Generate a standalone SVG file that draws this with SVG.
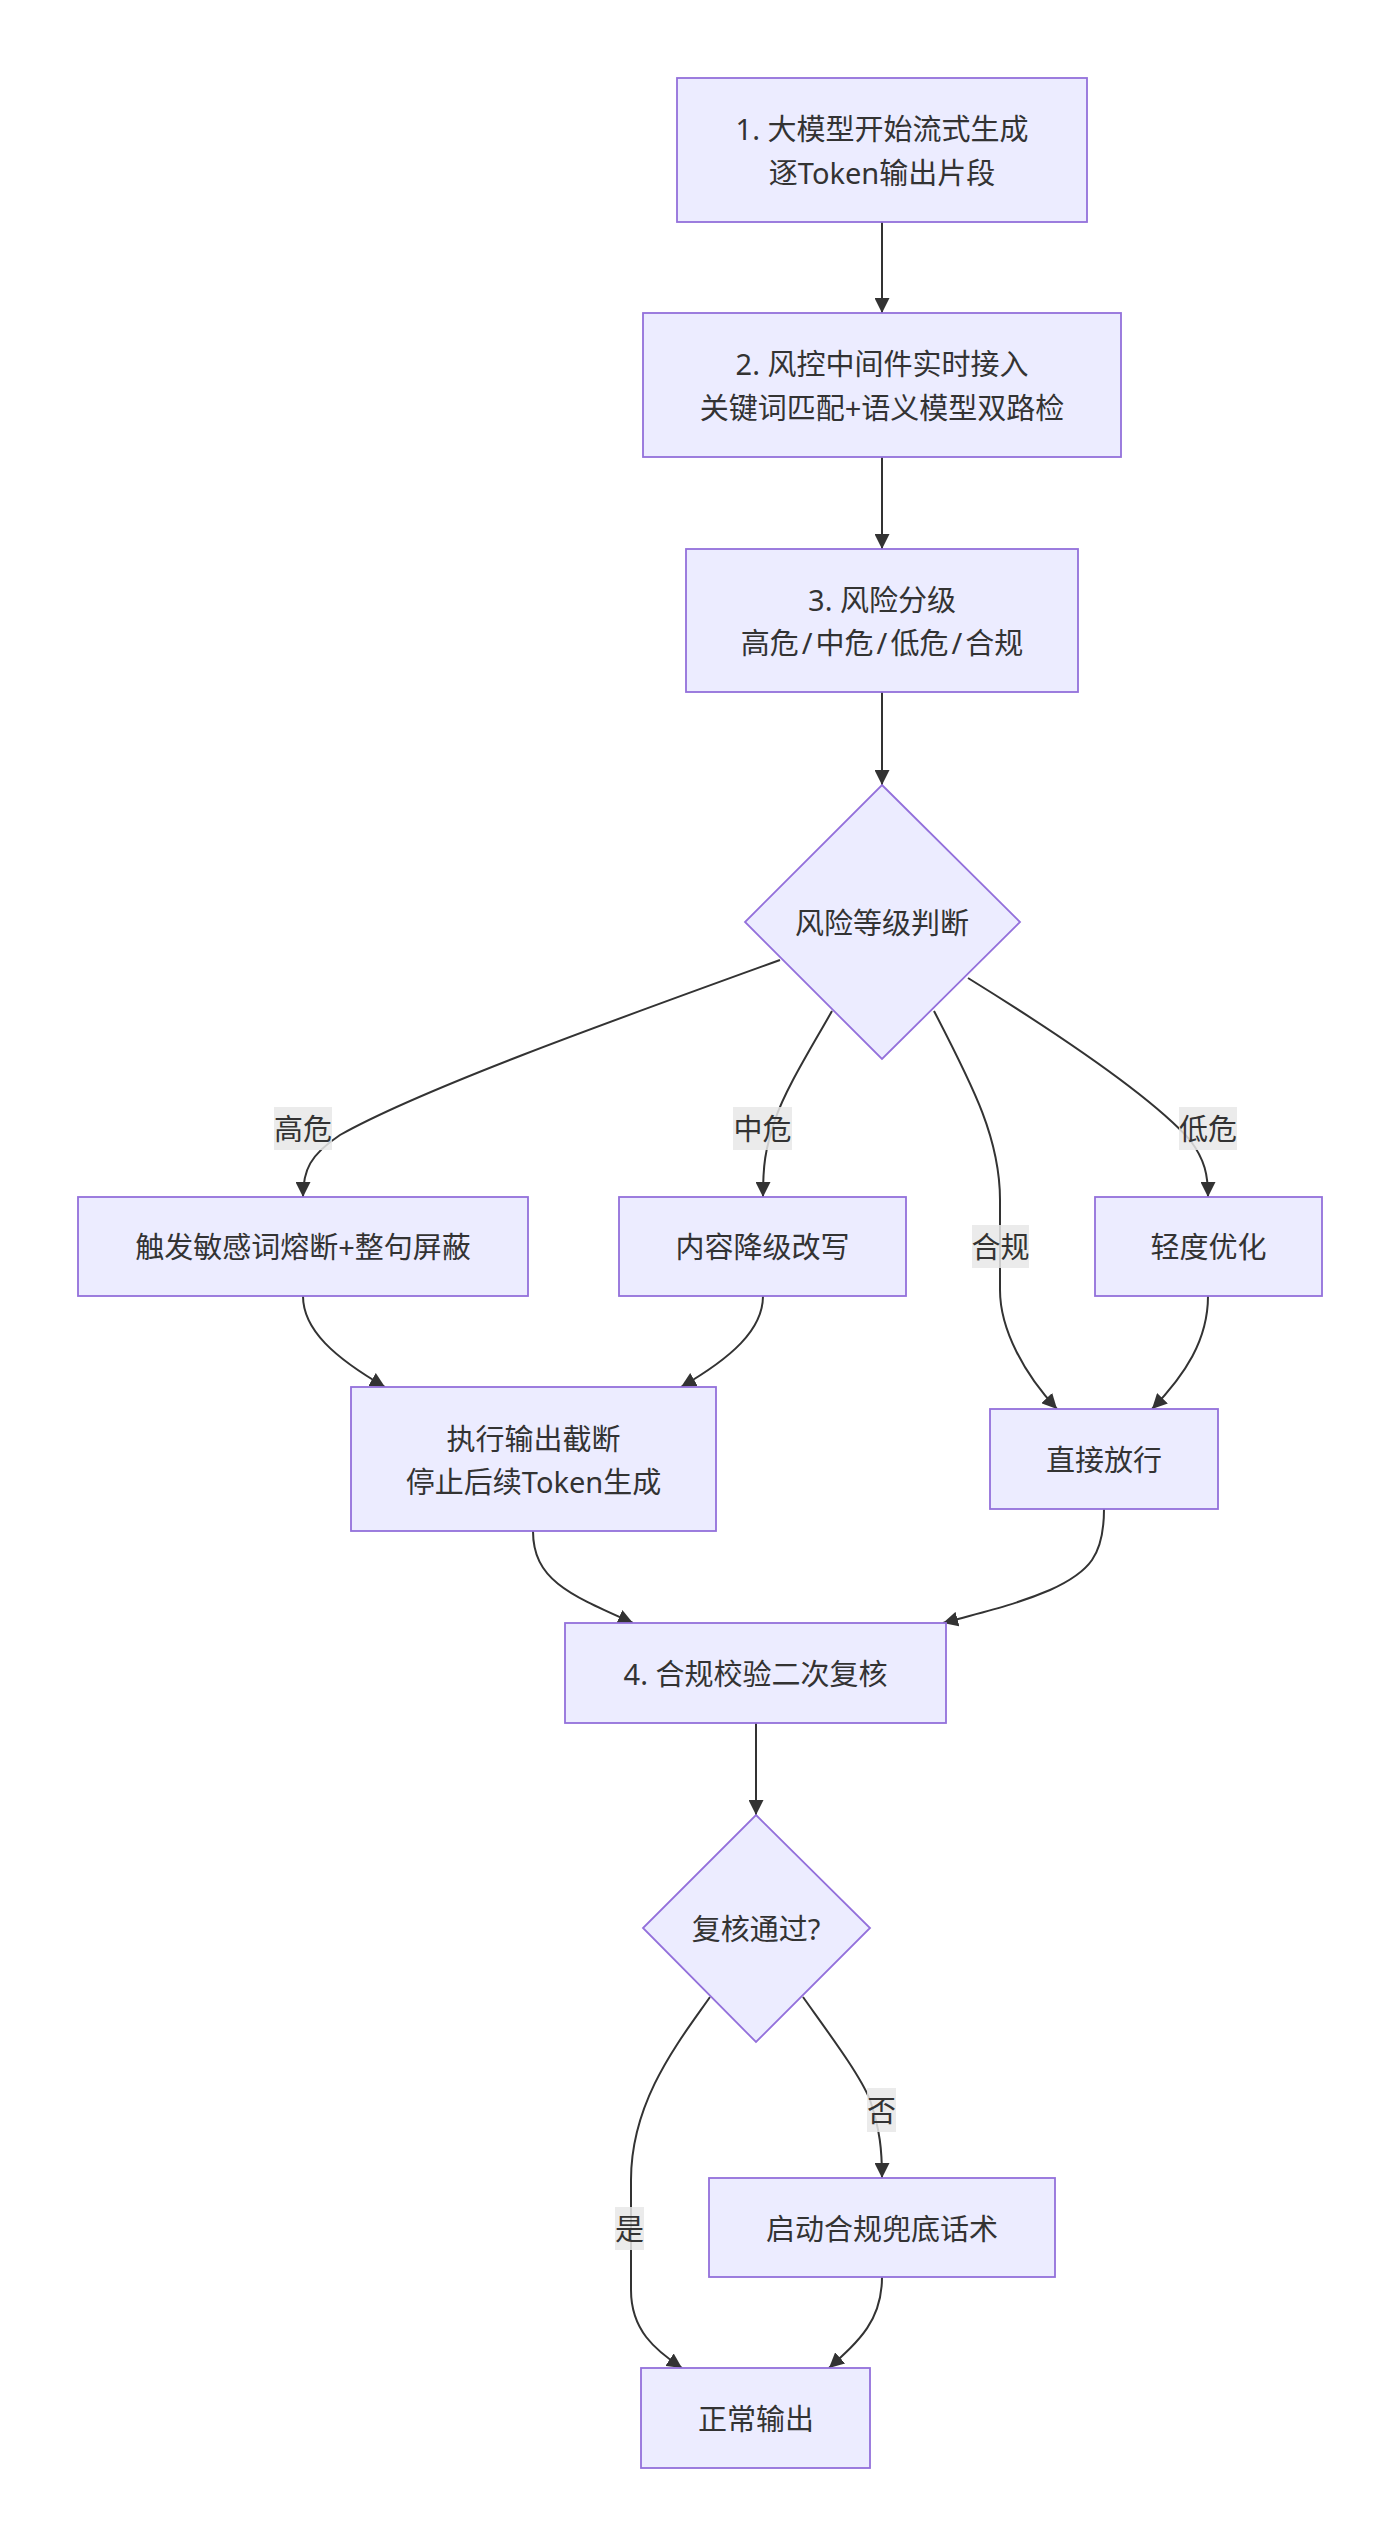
<svg xmlns="http://www.w3.org/2000/svg" width="1400" height="2547" viewBox="0 0 1400 2547">
<style>
.node rect, .node polygon { fill: #ECECFF; stroke: #9370DB; stroke-width: 1.8; }
.node text, .lbl text { font-family: "Noto Sans", "Noto Sans CJK SC", sans-serif; font-size: 29px; fill: #333333; text-anchor: middle; dominant-baseline: central; }
.edges path { fill: none; stroke: #333333; stroke-width: 2; }
.lbl rect { fill: #E8E8E8; opacity: 0.85; }
</style>
<defs>
<marker id="arr" viewBox="0 0 10 10" refX="10" refY="5" markerUnits="userSpaceOnUse" markerWidth="15" markerHeight="15" orient="auto">
<path d="M0,0 L10,5 L0,10 z" fill="#333333"/>
</marker>
</defs>
<rect width="1400" height="2547" fill="#FFFFFF"/>
<g class="edges">
<path d="M882,222 L882,313" marker-end="url(#arr)"/>
<path d="M882,457 L882,549" marker-end="url(#arr)"/>
<path d="M882,692 L882,785" marker-end="url(#arr)"/>
<path d="M780,960 C600,1025 420,1090 340,1135 C310,1155 303,1170 303,1197" marker-end="url(#arr)"/>
<path d="M832,1011 C810,1050 785,1090 775,1120 C765,1150 763,1165 763,1197" marker-end="url(#arr)"/>
<path d="M934,1011 C975,1090 1000,1140 1000,1200 L1000,1290 C1000,1330 1025,1375 1057,1409" marker-end="url(#arr)"/>
<path d="M968,978 C1060,1035 1150,1095 1190,1140 C1205,1160 1208,1175 1208,1197" marker-end="url(#arr)"/>
<path d="M303,1296 C303,1330 335,1358 385,1387" marker-end="url(#arr)"/>
<path d="M763,1296 C763,1330 731,1358 681,1387" marker-end="url(#arr)"/>
<path d="M1208,1296 C1208,1340 1185,1375 1152,1409" marker-end="url(#arr)"/>
<path d="M533,1531 C533,1580 570,1595 633,1623" marker-end="url(#arr)"/>
<path d="M1104,1509 C1104,1555 1090,1572 1050,1590 C1015,1605 980,1613 943,1623" marker-end="url(#arr)"/>
<path d="M756,1723 L756,1815" marker-end="url(#arr)"/>
<path d="M710,1997 C680,2040 631,2100 631,2180 L631,2290 C631,2330 655,2350 682,2368" marker-end="url(#arr)"/>
<path d="M803,1997 C830,2035 860,2075 870,2100 C880,2130 882,2150 882,2178" marker-end="url(#arr)"/>
<path d="M882,2277 C882,2320 860,2340 829,2368" marker-end="url(#arr)"/>
</g>
<g class="lbl" id="lbl-high"><rect x="274" y="1107" width="58" height="43"/><text x="303" y="1128">高危</text></g>
<g class="lbl" id="lbl-mid"><rect x="733" y="1107" width="59" height="43"/><text x="762.5" y="1128">中危</text></g>
<g class="lbl" id="lbl-ok"><rect x="972" y="1225" width="57" height="43"/><text x="1000.5" y="1246">合规</text></g>
<g class="lbl" id="lbl-low"><rect x="1179" y="1107" width="58" height="43"/><text x="1208" y="1128">低危</text></g>
<g class="lbl" id="lbl-no"><rect x="867" y="2088" width="29" height="44"/><text x="881.5" y="2110">否</text></g>
<g class="lbl" id="lbl-yes"><rect x="615" y="2207" width="29" height="43"/><text x="629.5" y="2228">是</text></g>
<g class="node" id="n1"><rect x="677" y="78" width="410" height="144"/><text x="882" y="128">1. 大模型开始流式生成</text><text x="882" y="172">逐Token输出片段</text></g>
<g class="node" id="n2"><rect x="643" y="313" width="478" height="144"/><text x="882" y="363">2. 风控中间件实时接入</text><text x="882" y="407">关键词匹配+语义模型双路检</text></g>
<g class="node" id="n3"><rect x="686" y="549" width="392" height="143"/><text x="882" y="599">3. 风险分级</text><text x="882" y="642">高危<tspan dx="3">/</tspan><tspan dx="3">中危</tspan><tspan dx="3">/</tspan><tspan dx="3">低危</tspan><tspan dx="3">/</tspan><tspan dx="3">合规</tspan></text></g>
<g class="node" id="d1"><polygon points="882,785 1020,922 882,1059 745,922"/><text x="882" y="922">风险等级判断</text></g>
<g class="node" id="nH"><rect x="78" y="1197" width="450" height="99"/><text x="303" y="1246">触发敏感词熔断+整句屏蔽</text></g>
<g class="node" id="nM"><rect x="619" y="1197" width="287" height="99"/><text x="762.5" y="1246">内容降级改写</text></g>
<g class="node" id="nL"><rect x="1095" y="1197" width="227" height="99"/><text x="1208.5" y="1246">轻度优化</text></g>
<g class="node" id="nT"><rect x="351" y="1387" width="365" height="144"/><text x="533.5" y="1438">执行输出截断</text><text x="533.5" y="1481">停止后续Token生成</text></g>
<g class="node" id="nP"><rect x="990" y="1409" width="228" height="100"/><text x="1104" y="1459">直接放行</text></g>
<g class="node" id="n4"><rect x="565" y="1623" width="381" height="100"/><text x="755.5" y="1673">4. 合规校验二次复核</text></g>
<g class="node" id="d2"><polygon points="756,1815 870,1928 756,2042 643,1928"/><text x="756" y="1928">复核通过?</text></g>
<g class="node" id="nF"><rect x="709" y="2178" width="346" height="99"/><text x="882" y="2228">启动合规兜底话术</text></g>
<g class="node" id="nO"><rect x="641" y="2368" width="229" height="100"/><text x="756" y="2418">正常输出</text></g>
</svg>
